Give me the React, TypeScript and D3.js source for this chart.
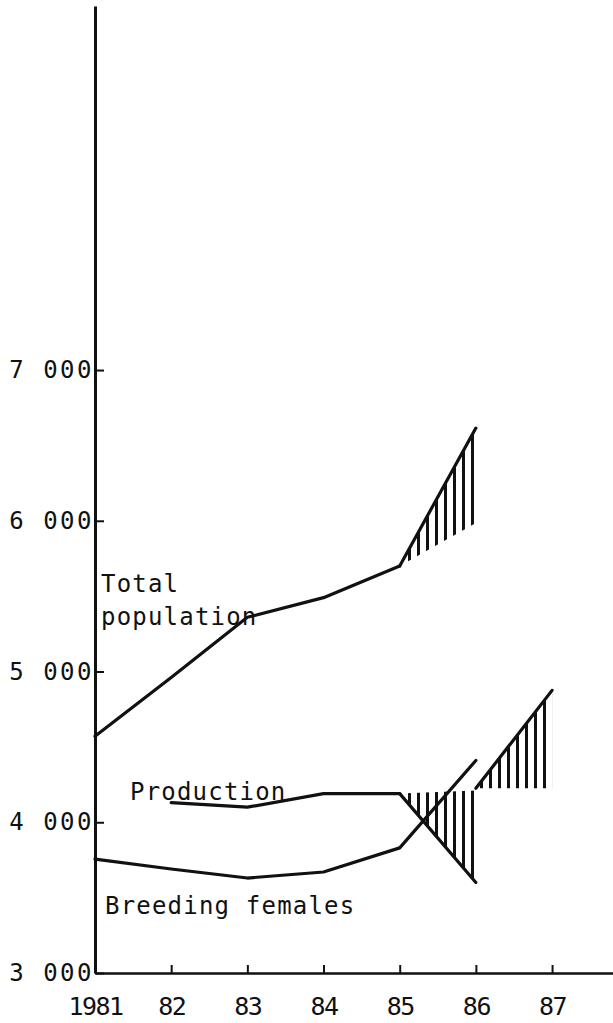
import * as d3 from 'd3';
import React, { useEffect, useRef } from 'react';

// values (head count)
const years = [1981, 1982, 1983, 1984, 1985];
const totalPopulation = [4570, 4960, 5360, 5490, 5700];

const productionYears = [1982, 1983, 1984, 1985];
const production = [4130, 4100, 4190, 4190];

const breedingYears = [1981, 1982, 1983, 1984, 1985, 1986];
const breedingFemales = [3755, 3690, 3630, 3670, 3830, 4410];

// projected ranges (hatched)
const totalProjYears = [1985, 1986];
const totalProjLow = [5700, 5985];
const totalProjHigh = [5700, 6615];

const prodProjYears = [1985, 1986];
const prodProjLow = [4190, 3600];
const prodProjHigh = [4190, 4210];

const breedProjYears = [1986, 1987];
const breedProjLow = [4225, 4225];
const breedProjHigh = [4225, 4875];

const xTicks = [1981, 1982, 1983, 1984, 1985, 1986, 1987];
const xTickLabels = ['1981', '82', '83', '84', '85', '86', '87'];
const yTicks = [3000, 4000, 5000, 6000, 7000];
const yTickLabels = ['3 000', '4 000', '5 000', '6 000', '7 000'];

const W = 613;
const H = 1023;
const FONT = '"DejaVu Sans Mono", monospace';

type Pt = { year: number; lo: number; hi: number };

const App: React.FC = () => {
  const ref = useRef<SVGSVGElement>(null);

  useEffect(() => {
    const svg = d3.select(ref.current);
    svg.selectAll('*').remove();

    const x = d3.scaleLinear().domain([1981, 1987.8]).range([95, 613]);
    const y = d3.scaleLinear().domain([3000, 9415]).range([973, 6]);

    // vertical hatching
    svg.append('defs')
      .append('pattern')
      .attr('id', 'hatch')
      .attr('patternUnits', 'userSpaceOnUse')
      .attr('width', 9)
      .attr('height', 10)
      .append('rect')
      .attr('x', 3)
      .attr('width', 3)
      .attr('height', 10)
      .attr('fill', '#111');

    // axes
    const yAxis = svg.append('g')
      .attr('transform', `translate(${x(1981)},0)`)
      .call(
        d3.axisLeft(y)
          .tickValues(yTicks)
          .tickFormat((d, i) => yTickLabels[i])
          .tickSize(-9)
          .tickSizeOuter(0)
          .tickPadding(1)
      );
    yAxis.select('.domain').attr('stroke', '#111').attr('stroke-width', 3);
    yAxis.selectAll('.tick line').attr('stroke', '#111').attr('stroke-width', 2);
    yAxis.selectAll('.tick text')
      .attr('fill', '#111')
      .attr('font-family', FONT)
      .attr('font-size', 24)
      .attr('letter-spacing', 2.5);

    const xAxis = svg.append('g')
      .attr('transform', `translate(0,${y(3000)})`)
      .call(
        d3.axisBottom(x)
          .tickValues(xTicks)
          .tickFormat((d, i) => xTickLabels[i])
          .tickSize(-8)
          .tickSizeOuter(0)
          .tickPadding(24)
      );
    xAxis.select('.domain').attr('stroke', '#111').attr('stroke-width', 2.5);
    xAxis.selectAll('.tick line').attr('stroke', '#111').attr('stroke-width', 2);
    xAxis.selectAll('.tick text')
      .attr('fill', '#111')
      .attr('font-family', FONT)
      .attr('font-size', 25)
      .attr('letter-spacing', -1.5);

    const line = d3.line<[number, number]>()
      .x(d => x(d[0]))
      .y(d => y(d[1]));

    const area = d3.area<Pt>()
      .x(d => x(d.year))
      .y0(d => y(d.lo))
      .y1(d => y(d.hi));

    const drawLine = (xs: number[], vs: number[]) => {
      svg.append('path')
        .datum(xs.map((v, i) => [v, vs[i]] as [number, number]))
        .attr('fill', 'none')
        .attr('stroke', '#111')
        .attr('stroke-width', 3.2)
        .attr('stroke-linejoin', 'round')
        .attr('stroke-linecap', 'round')
        .attr('d', line);
    };

    const drawRange = (xs: number[], lo: number[], hi: number[]) => {
      svg.append('path')
        .datum(xs.map((v, i) => ({ year: v, lo: lo[i], hi: hi[i] })))
        .attr('fill', 'url(#hatch)')
        .attr('d', area);
    };

    // hatched projections
    drawRange(totalProjYears, totalProjLow, totalProjHigh);
    drawRange(prodProjYears, prodProjLow, prodProjHigh);
    drawRange(breedProjYears, breedProjLow, breedProjHigh);

    // series lines
    drawLine(years, totalPopulation);
    drawLine(totalProjYears, totalProjHigh);
    drawLine(productionYears, production);
    drawLine(prodProjYears, prodProjLow);
    drawLine(breedingYears, breedingFemales);
    drawLine(breedProjYears, breedProjHigh);

    // series labels
    const labels: [string, number, number][] = [
      ['Total', 101, 592],
      ['population', 101, 625],
      ['Production', 130, 800],
      ['Breeding females', 105, 914],
    ];
    svg.selectAll('.lbl')
      .data(labels)
      .join('text')
      .attr('class', 'lbl')
      .attr('x', d => d[1])
      .attr('y', d => d[2])
      .attr('fill', '#111')
      .attr('font-family', FONT)
      .attr('font-size', 24)
      .attr('letter-spacing', 1.2)
      .text(d => d[0]);
  }, []);

  return (
    <svg
      ref={ref}
      width={W}
      height={H}
      style={{ position: 'absolute', left: 0, top: 0, background: '#fff' }}
    />
  );
};

export default App;
